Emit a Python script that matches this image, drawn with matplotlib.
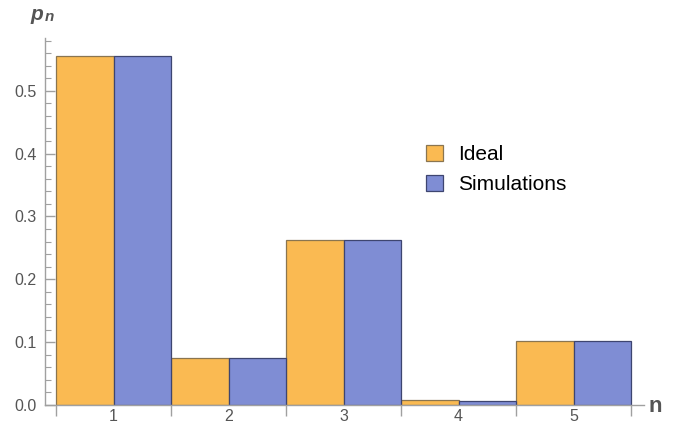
import matplotlib
matplotlib.use("Agg")
import matplotlib.pyplot as plt
import numpy as np

categories = [1, 2, 3, 4, 5]
ideal = [0.556, 0.074, 0.263, 0.008, 0.102]
simulations = [0.556, 0.074, 0.262, 0.007, 0.102]
yticks = [0.0, 0.1, 0.2, 0.3, 0.4, 0.5]

plt.rcParams['font.family'] = ['Liberation Sans', 'DejaVu Sans']

W, H = 678, 424
fig = plt.figure(figsize=(W / 100, H / 100), dpi=100)
x0, x1, y0, y1 = 45, 644, 38, 405
ax = fig.add_axes([x0 / W, 1 - y1 / H, (x1 - x0) / W, (y1 - y0) / H])

orange = '#FABA52'
blue = '#7F8DD4'
oedge = '#8A7550'
bedge = '#3E4570'
axcol = '#A0A0A0'
txtcol = '#555555'

x = np.array(categories, dtype=float)
bw = 0.5
ax.bar(x - bw / 2, ideal, width=bw, color=orange, edgecolor=oedge, linewidth=0.9, label='Ideal')
ax.bar(x + bw / 2, simulations, width=bw, color=blue, edgecolor=bedge, linewidth=0.9, label='Simulations')

ax.set_xlim(0.5 - 11 / 115, 5.5 + 13 / 115)
ax.set_ylim(0, 0.584)

for s in ['top', 'right']:
    ax.spines[s].set_visible(False)
for s in ['left', 'bottom']:
    ax.spines[s].set_color(axcol)
    ax.spines[s].set_linewidth(1.0)

# x ticks: major at group boundaries (no labels), minor at centres (labels)
ax.set_xticks(np.arange(0.5, 6.0, 1.0))
ax.set_xticklabels([])
ax.set_xticks(x, minor=True)
ax.set_xticklabels([str(c) for c in categories], minor=True)
ax.tick_params(axis='x', which='major', direction='out', length=8, color=axcol, width=1.0)
ax.tick_params(axis='x', which='minor', length=0, pad=3, labelsize=11.5, labelcolor=txtcol)

ax.set_yticks(yticks)
ax.set_yticklabels([f'{v:.1f}' for v in yticks])
ax.set_yticks(np.arange(0.02, 0.584, 0.02), minor=True)
ax.tick_params(axis='y', which='major', direction='in', length=7, color=axcol, width=1.0,
               labelsize=11.5, labelcolor=txtcol, pad=6)
ax.tick_params(axis='y', which='minor', direction='in', length=4, color=axcol, width=0.8)

leg = ax.legend(loc='upper left', bbox_to_anchor=((426 - x0) / (x1 - x0), 1 - (145 - y0) / (y1 - y0)),
                frameon=False, fontsize=15, handlelength=0.8, handleheight=0.8,
                handletextpad=0.75, labelspacing=0.5, borderpad=0, borderaxespad=0)

fig.text(648 / W, 1 - 406 / H, 'n', fontsize=16, fontweight='bold', color=txtcol,
         ha='left', va='center')
fig.text(30 / W, 1 - 14 / H, 'p', fontsize=15, fontweight='bold', fontstyle='italic',
         color=txtcol, ha='left', va='center')
fig.text(45 / W, 1 - 17 / H, 'n', fontsize=11, fontweight='bold', fontstyle='italic',
         color=txtcol, ha='left', va='center')

fig.savefig('out.png', dpi=100)
